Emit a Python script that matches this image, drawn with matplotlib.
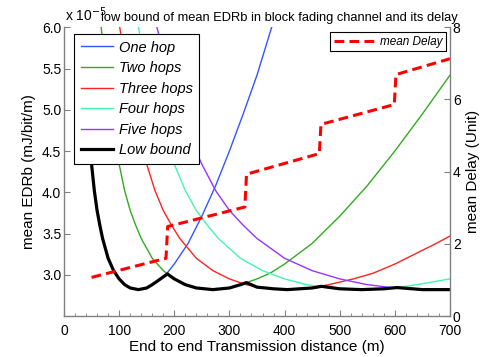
#!/usr/bin/env python3
"""
plot.py - low bound of mean EDRb in block fading channel and its delay
"""

import matplotlib
matplotlib.use("Agg")
import matplotlib.pyplot as plt
from matplotlib.ticker import MultipleLocator

plt.rcParams['font.family'] = ['Liberation Sans', 'DejaVu Sans']

# EDRb values are in units of 1e-5 mJ/bit/m, distances in m
one_hop_d = [50, 55, 60, 65, 70, 80, 90, 100, 110, 120, 135, 150, 160, 175,
             187, 200, 225, 250, 275, 300, 325, 350, 378, 400]
one_hop = [4.34, 4.02, 3.78, 3.6, 3.44, 3.2, 3.05, 2.95, 2.88, 2.84, 2.82, 2.84,
           2.88, 2.95, 3.02, 3.13, 3.38, 3.71, 4.08, 4.5, 4.95, 5.42, 6.03, 6.55]

two_hops_d = [60, 67.4, 80, 90, 100, 110, 120, 130, 140, 160, 180, 200, 220,
              240, 270, 300, 320, 350, 374, 400, 450, 500, 550, 600, 650, 700]
two_hops = [6.63, 6.0, 5.2, 4.72, 4.34, 4.02, 3.78, 3.6, 3.44, 3.2, 3.05, 2.95,
            2.88, 2.84, 2.82, 2.84, 2.88, 2.95, 3.02, 3.13, 3.38, 3.71, 4.08,
            4.5, 4.95, 5.42]

three_hops_d = [90, 101.1, 120, 135, 150, 165, 180, 195, 210, 240, 270, 300,
                330, 360, 405, 450, 480, 525, 561, 600, 675, 700]
three_hops = [6.63, 6.0, 5.2, 4.72, 4.34, 4.02, 3.78, 3.6, 3.44, 3.2, 3.05,
              2.95, 2.88, 2.84, 2.82, 2.84, 2.88, 2.95, 3.02, 3.13, 3.38, 3.47]

four_hops_d = [120, 134.8, 160, 180, 200, 220, 240, 260, 280, 320, 360, 400,
               440, 480, 540, 600, 640, 700]
four_hops = [6.63, 6.0, 5.2, 4.72, 4.34, 4.02, 3.78, 3.6, 3.44, 3.2, 3.05,
             2.95, 2.88, 2.84, 2.82, 2.84, 2.88, 2.95]

five_hops_d = [150, 168.5, 200, 225, 250, 275, 300, 325, 350, 400, 450, 500,
               550, 600, 675, 700]
five_hops = [6.63, 6.0, 5.2, 4.72, 4.34, 4.02, 3.78, 3.6, 3.44, 3.2, 3.05,
             2.95, 2.88, 2.84, 2.82, 2.82]

low_bound_d = [50, 55, 60, 65, 70, 80, 90, 100, 110, 120, 135, 150, 160, 175,
               187.5, 200, 220, 240, 270, 300, 320, 330.7, 350, 380, 405, 450,
               467, 500, 540, 580, 604, 650, 675, 700]
low_bound = [4.34, 4.02, 3.78, 3.6, 3.44, 3.2, 3.05, 2.95, 2.88, 2.84, 2.82,
             2.84, 2.88, 2.95, 3.01, 2.95, 2.88, 2.84, 2.82, 2.84, 2.88, 2.905,
             2.85, 2.83, 2.82, 2.84, 2.86, 2.83, 2.82, 2.83, 2.845, 2.82, 2.82,
             2.82]

# mean delay (right axis)
delay_d = [50, 185, 188, 328, 331, 463, 466, 599, 602, 700]
delay = [1.07, 1.60, 2.48, 3.02, 3.93, 4.50, 5.31, 5.86, 6.69, 7.13]

hop_labels = ['One hop', 'Two hops', 'Three hops', 'Four hops', 'Five hops']
hop_colors = ['#3355ff', '#33aa22', '#ff2222', '#44f5b0', '#9933ff']


def create_plot():
    fig = plt.figure(figsize=(4.98, 3.57), dpi=100)
    ax1 = fig.add_axes([0.1285, 0.1148, 0.7751, 0.8087])
    ax2 = ax1.twinx()

    series = [(one_hop_d, one_hop), (two_hops_d, two_hops),
              (three_hops_d, three_hops), (four_hops_d, four_hops),
              (five_hops_d, five_hops)]
    handles = []
    for (d, v), label, color in zip(series, hop_labels, hop_colors):
        h, = ax1.plot(d, v, color=color, linewidth=1.0, label=label)
        handles.append(h)
    h, = ax1.plot(low_bound_d, low_bound, color='black', linewidth=2.3,
                  label='Low bound')
    handles.append(h)

    dl, = ax2.plot(delay_d, delay, color='#ff0000', linewidth=2.2,
                   dashes=(3.2, 1.7), label='mean Delay')

    ax1.set_xlim(0, 700)
    ax1.set_ylim(2.5, 6)
    ax1.xaxis.set_major_locator(MultipleLocator(100))
    ax1.xaxis.set_minor_locator(MultipleLocator(20))
    ax1.set_yticks([3, 3.5, 4, 4.5, 5, 5.5, 6])
    ax2.set_ylim(0, 8)
    ax2.set_yticks([0, 2, 4, 6, 8])

    gray = '#808080'
    for ax in (ax1, ax2):
        ax.spines['top'].set_visible(False)
        for s in ('left', 'right', 'bottom'):
            ax.spines[s].set_color(gray)
            ax.spines[s].set_linewidth(1.0)
        ax.tick_params(which='both', direction='in', color=gray, labelsize=10)
        ax.tick_params(which='major', length=4)
        ax.tick_params(which='minor', length=2)
    ax1.tick_params(axis='x', pad=6)
    ax1.tick_params(axis='y', pad=2)
    ax2.tick_params(axis='y', pad=2)
    ax1.spines['right'].set_visible(False)
    ax2.spines['left'].set_visible(False)
    ax2.spines['bottom'].set_visible(False)

    ax1.set_xlabel('End to end Transmission distance (m)', fontsize=11,
                   labelpad=1)
    ax1.set_ylabel('mean EDRb (mJ/bit/m)', fontsize=11, labelpad=4)
    ax2.set_ylabel('mean Delay (Unit)', fontsize=11, labelpad=4)

    ax1.text(0.003, 1.022, r'x 10$^{-5}$', transform=ax1.transAxes,
             fontsize=10, va='baseline', ha='left')
    fig.text(0.560, 0.942,
             'low bound of mean EDRb in block fading channel and its delay',
             fontsize=9.3, ha='center', va='baseline')

    leg1 = ax2.legend(handles=handles, loc='upper left',
                      bbox_to_anchor=(0.026, 0.977), borderaxespad=0,
                      prop={'style': 'italic', 'size': 10.5},
                      frameon=True, fancybox=False, edgecolor='black',
                      framealpha=1, handlelength=2.2, handletextpad=0.4,
                      labelspacing=0.45, borderpad=0.45)
    leg1.get_frame().set_linewidth(0.8)
    ax2.add_artist(leg1)
    leg2 = ax2.legend(handles=[dl], loc='upper right',
                      bbox_to_anchor=(0.989, 0.983), borderaxespad=0,
                      prop={'style': 'italic', 'size': 8.5},
                      frameon=True, fancybox=False, edgecolor='black',
                      framealpha=1, handlelength=3.6, handletextpad=0.3,
                      borderpad=0.3)
    leg2.get_frame().set_linewidth(0.8)
    return fig


def main():
    fig = create_plot()
    fig.savefig('out.png', dpi=100)
    plt.close(fig)


if __name__ == "__main__":
    main()
